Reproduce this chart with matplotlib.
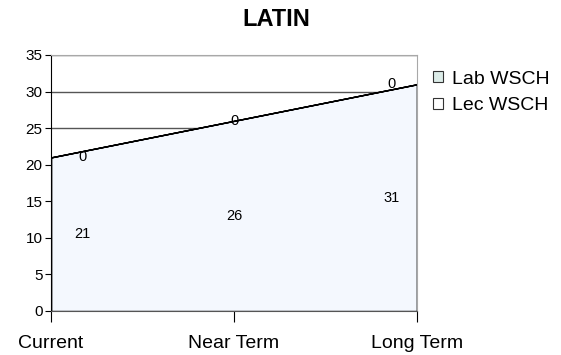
import matplotlib
matplotlib.use("Agg")
import matplotlib.pyplot as plt
from matplotlib.patches import Patch
import numpy as np

plt.rcParams['font.family'] = ['Liberation Sans', 'DejaVu Sans']

categories = ["Current", "Near Term", "Long Term"]
lec_wsch = [21, 26, 31]
lab_wsch = [0, 0, 0]
series_names = ["Lab WSCH", "Lec WSCH"]
title = "LATIN"

lec_color = "#f4f8fe"
lab_color = "#dcece8"

fig = plt.figure(figsize=(5.61, 3.55), dpi=100)
ax = fig.add_axes([51 / 561, 44 / 355, 366 / 561, 256 / 355])

x = np.arange(len(categories))
ax.stackplot(x, lec_wsch, lab_wsch, colors=[lec_color, lab_color],
             edgecolor="black", linewidth=1.0, zorder=2)
# left and right edges of the filled area
ax.plot([x[0], x[0]], [0, lec_wsch[0]], color="black", lw=1.0, zorder=3)
ax.plot([x[-1], x[-1]], [0, lec_wsch[-1]], color="black", lw=1.0, zorder=3)

ax.set_xlim(x[0], x[-1])
ax.set_ylim(0, 35)
ax.set_yticks(range(0, 36, 5))
ax.set_xticks(x)
ax.set_xticklabels(categories, fontsize=14)
ax.tick_params(axis="y", labelsize=11, length=4, direction="out", color="black", pad=2)
ax.tick_params(axis="x", length=8, direction="out", color="black", pad=9)

ax.yaxis.grid(True, color="#555555", linewidth=1.0, zorder=0)
ax.set_axisbelow(True)
for side in ["top", "right"]:
    ax.spines[side].set_color("#a8a8a8")
ax.spines["left"].set_color("black")
ax.spines["bottom"].set_color("#555555")
ax.spines["bottom"].set_zorder(4)

# data labels
offsets = [0.17, 0.0, -0.14]
for xi, lec, lab, dx in zip(x, lec_wsch, lab_wsch, offsets):
    ax.text(xi + dx, lec / 2.0, f"{lec}", ha="center", va="center", fontsize=10.5, zorder=5)
    ax.text(xi + dx, lec + lab, f"{lab}", ha="center", va="center", fontsize=10.5, zorder=5)

fig.text(276 / 561, 1 - 20 / 355, title, ha="center", va="center",
         fontsize=17, fontweight="bold")

handles = [Patch(facecolor=lab_color, edgecolor="#333333", linewidth=0.8),
           Patch(facecolor="white", edgecolor="#333333", linewidth=0.8)]
fig.legend(handles, series_names, loc="upper left",
           bbox_to_anchor=(425 / 561, 1 - 63 / 355), frameon=False,
           fontsize=14, handlelength=0.5, handleheight=0.5, handletextpad=0.5,
           labelspacing=0.5, borderaxespad=0)

fig.savefig("out.png", dpi=100)
